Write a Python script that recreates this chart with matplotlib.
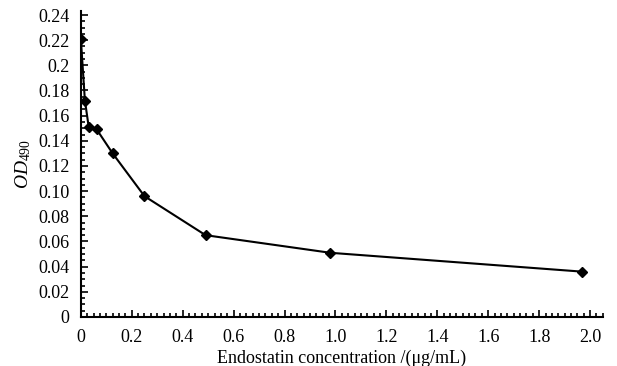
import numpy as np
import matplotlib
matplotlib.use('Agg')
import matplotlib.pyplot as plt
from matplotlib.ticker import MultipleLocator, FixedLocator, FixedFormatter

# Serif look like the original figure
plt.rcParams['font.family'] = ['Liberation Serif', 'DejaVu Serif']
plt.rcParams['mathtext.fontset'] = 'custom'
plt.rcParams['mathtext.rm'] = 'Liberation Serif'
plt.rcParams['mathtext.it'] = 'Liberation Serif:italic'

# Data
concentration = [0, 0.016, 0.031, 0.0625, 0.125, 0.25, 0.49, 0.98, 1.97]
od490 = [0.221, 0.172, 0.151, 0.149, 0.130, 0.096, 0.065, 0.051, 0.036]

x_ticks = [0, 0.2, 0.4, 0.6, 0.8, 1.0, 1.2, 1.4, 1.6, 1.8, 2.0]
x_labels = ['0', '0.2', '0.4', '0.6', '0.8', '1.0', '1.2', '1.4', '1.6', '1.8', '2.0']
y_ticks = [0, 0.02, 0.04, 0.06, 0.08, 0.10, 0.12, 0.14, 0.16, 0.18, 0.20, 0.22, 0.24]
y_labels = ['0', '0.02', '0.04', '0.06', '0.08', '0.10', '0.12', '0.14', '0.16',
            '0.18', '0.2', '0.22', '0.24']

fig = plt.figure(figsize=(6.17, 3.66), dpi=100)
ax = fig.add_axes([0.131, 0.134, 0.846, 0.836])

ax.plot(concentration, od490, color='black', linewidth=1.5,
        marker='D', markersize=5, markerfacecolor='black')

ax.set_xlim(0, 2.05)
ax.set_ylim(0, 0.2432)

ax.xaxis.set_major_locator(FixedLocator(x_ticks))
ax.xaxis.set_major_formatter(FixedFormatter(x_labels))
ax.yaxis.set_major_locator(FixedLocator(y_ticks))
ax.yaxis.set_major_formatter(FixedFormatter(y_labels))
ax.xaxis.set_minor_locator(MultipleLocator(0.025))
ax.yaxis.set_minor_locator(MultipleLocator(0.005))

ax.tick_params(which='both', direction='in', labelsize=13, width=1.2)
ax.tick_params(which='major', length=5)
ax.tick_params(axis='y', which='major', pad=8)
ax.tick_params(axis='x', which='major', pad=9)
ax.tick_params(which='minor', length=3)

for side in ['top', 'right']:
    ax.spines[side].set_visible(False)
for side in ['left', 'bottom']:
    ax.spines[side].set_linewidth(1.5)

ax.set_xlabel('Endostatin concentration /(μg/mL)', fontsize=13, labelpad=2)
ax.set_ylabel(r'$\mathit{OD}_{\mathrm{490}}$', fontsize=14, labelpad=4)

fig.savefig('out.png', dpi=100)
